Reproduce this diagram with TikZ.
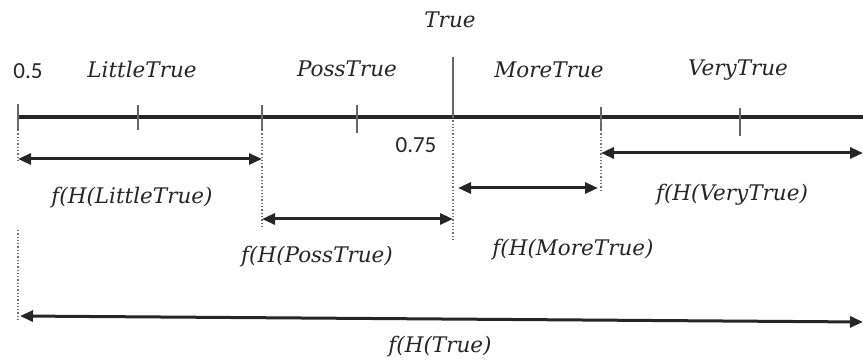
\documentclass[tikz,border=0pt]{standalone}
\usepackage{fontspec}
\setmainfont{DejaVu Serif}
\newfontfamily\numfont{Carlito}
\usetikzlibrary{arrows.meta}
\tikzset{
  axis/.style={line width=3.2pt, black!85},
  tickmark/.style={line width=1.4pt, black!60},
  guide/.style={line width=1.3pt, dotted, black!55},
  span/.style={line width=3pt, black!85, {Triangle[length=13pt,width=11pt]}-{Triangle[length=13pt,width=11pt]}},
  lbl/.style={font=\fontsize{21.5}{23}\selectfont\itshape, text=black!85, inner sep=0pt},
  num/.style={font=\fontsize{23}{25}\selectfont\numfont, text=black!85, inner sep=0pt}
}
\begin{document}
\begin{tikzpicture}[x=1pt,y=-1pt]
\useasboundingbox (0,0) rectangle (863,363);
% points on the scale
\coordinate (p0) at (18,117);
\coordinate (p1) at (138,117);
\coordinate (p2) at (262,117);
\coordinate (p3) at (357,117);
\coordinate (p4) at (453,117);
\coordinate (p5) at (601,117);
\coordinate (p6) at (740,117);
\coordinate (pend) at (863,117);
% scale line and ticks (yshift is upward)
\draw[axis] (p0) -- (pend);
\draw[tickmark] ([yshift=13pt]p0) -- ([yshift=-13pt]p0);
\draw[tickmark] ([yshift=12pt]p1) -- ([yshift=-13pt]p1);
\draw[tickmark] ([yshift=12pt]p2) -- ([yshift=-13pt]p2);
\draw[tickmark] ([yshift=12pt]p3) -- ([yshift=-16pt]p3);
\draw[tickmark] ([yshift=60pt]p4) -- (p4);
\draw[tickmark] ([yshift=10pt]p5) -- ([yshift=-13pt]p5);
\draw[tickmark] ([yshift=9pt]p6) -- ([yshift=-19pt]p6);
% labels above the scale
\node[lbl] (tTrue) at (450,20) {True};
\node[num] (t05) at (28,71) {0.5};
\node[lbl] (tLittle) at (142,69) {LittleTrue};
\node[lbl] (tPoss) at (347,69) {PossTrue};
\node[lbl] (tMore) at (549,70) {MoreTrue};
\node[lbl] (tVery) at (738,70) {VeryTrue};
\node[num] (t075) at (416,145) {0.75};
% dotted guides down from the scale
\coordinate (g0a) at (18,160);
\coordinate (g0b) at (18,230);
\coordinate (g0c) at (18,321);
\coordinate (g2) at (262,228);
\coordinate (g4) at (453,241);
\coordinate (g5) at (601,191);
\draw[guide] (p0) -- (g0a);
\draw[guide] (g0b) -- (g0c);
\draw[guide] (p2) -- (g2);
\draw[guide] (p4) -- (g4);
\draw[guide] (p5) -- (g5);
% spans
\coordinate (aL1) at (18,159);   \coordinate (aL2) at (262,159);
\coordinate (aP1) at (262,219);  \coordinate (aP2) at (453,219);
\coordinate (aM1) at (458,188);  \coordinate (aM2) at (598,188);
\coordinate (aV1) at (601,153);  \coordinate (aV2) at (863,153);
\coordinate (aT1) at (20,316);   \coordinate (aT2) at (863,322);
\draw[span] (aL1) -- (aL2);
\draw[span] (aP1) -- (aP2);
\draw[span] (aM1) -- (aM2);
\draw[span] (aV1) -- (aV2);
\draw[span] (aT1) -- (aT2);
% span labels
\node[lbl] (fLittle) at (132,198) {f(H(LittleTrue)};
\node[lbl] (fPoss) at (317,257) {f(H(PossTrue)};
\node[lbl] (fMore) at (573,250) {f(H(MoreTrue)};
\node[lbl] (fVery) at (732,195) {f(H(VeryTrue)};
\node[lbl] (fTrue) at (440,347) {f(H(True)};
\end{tikzpicture}
\end{document}
